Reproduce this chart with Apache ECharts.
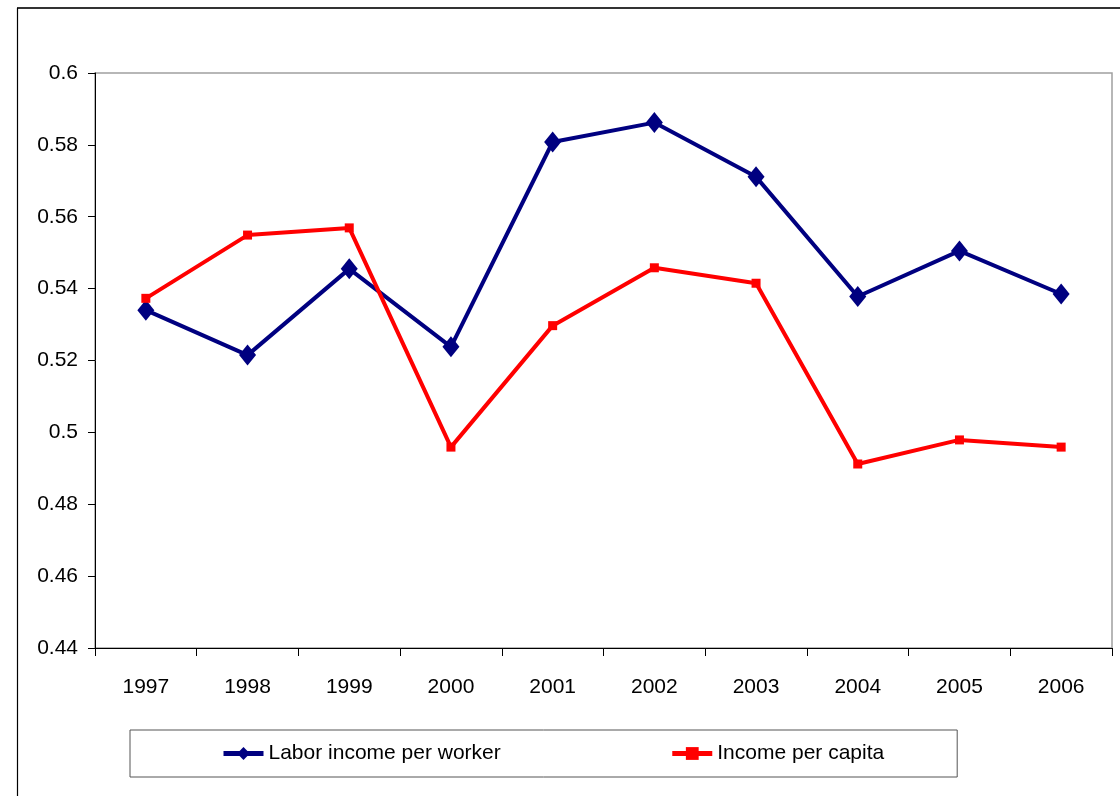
<!DOCTYPE html>
<html>
<head>
<meta charset="utf-8">
<script src="https://cdn.jsdelivr.net/npm/echarts@6/dist/echarts.min.js"></script>
<style>
html,body{margin:0;padding:0;background:#fff;}
#chart{width:1120px;height:796px;}
</style>
</head>
<body>
<div id="chart"></div>
<script>
const years = ['1997','1998','1999','2000','2001','2002','2003','2004','2005','2006'];
const laborIncomePerWorker = [0.534, 0.5215, 0.5455, 0.5238, 0.5808, 0.5862, 0.5711, 0.5378, 0.5505, 0.5385];
const incomePerCapita = [0.5373, 0.5549, 0.5569, 0.4959, 0.5297, 0.5458, 0.5415, 0.4912, 0.4979, 0.4959];
const yTicks = {min: 0.44, max: 0.6, interval: 0.02};

const chart = echarts.init(document.getElementById('chart'), null, {renderer: 'canvas'});
const font = '"Liberation Sans", Arial, sans-serif';
chart.setOption({
  animation: false,
  backgroundColor: '#fff',
  textStyle: {fontFamily: font},
  graphic: [
    {type: 'line', shape: {x1: 17, y1: 8, x2: 1120, y2: 8}, style: {stroke: '#333', lineWidth: 2}, silent: true},
    {type: 'line', shape: {x1: 17.5, y1: 8, x2: 17.5, y2: 796}, style: {stroke: '#000', lineWidth: 1.2}, silent: true}
  ],
  grid: {left: 95, top: 73, right: 8, bottom: 148, show: true, borderColor: '#a0a0a0', borderWidth: 1.5},
  legend: {
    left: 130, top: 730,
    padding: [13, 73, 13, 91],
    borderColor: '#555', borderWidth: 1,
    itemGap: 169, itemWidth: 40, itemHeight: 16,
    textStyle: {fontSize: 21, color: '#000', fontFamily: font},
    data: [
      {name: 'Labor income per worker', lineStyle: {width: 5, color: '#000080'}, itemStyle: {color: '#000080'}},
      {name: 'Income per capita', lineStyle: {width: 5, color: '#ff0000'}, itemStyle: {color: '#ff0000'}}
    ]
  },
  xAxis: {
    type: 'category', data: years, boundaryGap: true,
    axisLine: {lineStyle: {color: '#000', width: 1}},
    axisTick: {show: true, length: 8, lineStyle: {color: '#000'}},
    axisLabel: {fontSize: 21, color: '#000', margin: 29, fontFamily: font},
    splitLine: {show: false}
  },
  yAxis: {
    type: 'value', min: yTicks.min, max: yTicks.max, interval: yTicks.interval,
    axisLine: {show: true, lineStyle: {color: '#000', width: 1}},
    axisTick: {show: true, length: 7, lineStyle: {color: '#000'}},
    axisLabel: {fontSize: 21, color: '#000', margin: 17, fontFamily: font,
      formatter: v => String(Math.round(v * 100) / 100)},
    splitLine: {show: false}
  },
  series: [
    {
      name: 'Labor income per worker', type: 'line', data: laborIncomePerWorker,
      symbol: 'diamond', symbolSize: [17, 21],
      lineStyle: {color: '#000080', width: 4},
      itemStyle: {color: '#000080'}
    },
    {
      name: 'Income per capita', type: 'line', data: incomePerCapita,
      symbol: 'rect', symbolSize: 9,
      lineStyle: {color: '#ff0000', width: 4},
      itemStyle: {color: '#ff0000'}
    }
  ]
});
</script>
</body>
</html>
